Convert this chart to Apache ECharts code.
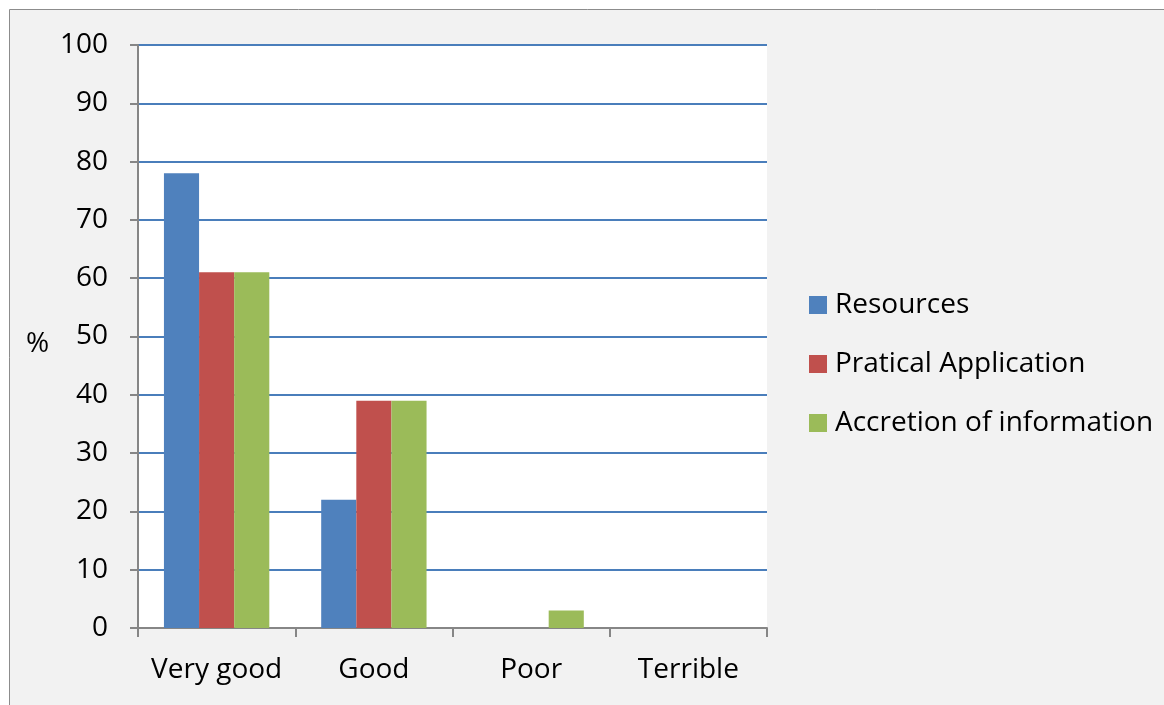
<!DOCTYPE html>
<html><head><meta charset="utf-8">
<script src="https://cdn.jsdelivr.net/npm/echarts@6/dist/echarts.min.js"></script>
<style>html,body{margin:0;padding:0;background:#fff;}#c{width:1164px;height:705px;}</style>
</head><body><div id="c"></div>
<script>
const categories = ["Very good", "Good", "Poor", "Terrible"];
const seriesNames = ["Resources", "Pratical Application", "Accretion of information"];
const resources = [78, 22, 0, 0];
const praticalApplication = [61, 39, 0, 0];
const accretion = [61, 39, 3, 0];
const yAxisTitle = "%";
const colors = ["#4f81bd", "#c0504d", "#9bbb59"];
const FONT = "Open Sans";
const FS = 28;
const chart = echarts.init(document.getElementById('c'), null, {renderer: 'canvas'});
const seriesData = [resources, praticalApplication, accretion];
chart.setOption({
  animation: false,
  backgroundColor: '#ffffff',
  graphic: [{
    type: 'rect', z: -10, silent: true,
    shape: {x: 9.5, y: 9.5, width: 1200, height: 800},
    style: {fill: '#f2f2f2', stroke: '#8c8c8c', lineWidth: 1}
  }, {
    type: 'text', left: 26, top: 330, silent: true,
    style: {text: yAxisTitle, font: FS + 'px "' + FONT + '"', fill: '#000'}
  }],
  grid: {left: 138, top: 45, width: 629, height: 583, backgroundColor: '#ffffff', show: true, borderWidth: 0},
  legend: {
    orient: 'vertical', left: 804, top: 281,
    itemWidth: 18, itemHeight: 18, itemGap: 21,
    icon: 'rect',
    textStyle: {fontFamily: FONT, fontSize: FS, color: '#000', lineHeight: 38, padding: [0, 0, 0, 3]},
    data: seriesNames
  },
  xAxis: {
    type: 'category', data: categories,
    axisLine: {lineStyle: {color: '#868686', width: 2}},
    axisTick: {show: true, length: 9, interval: 0, lineStyle: {color: '#868686', width: 2}},
    axisLabel: {fontFamily: FONT, fontSize: FS, color: '#000', margin: 28, interval: 0},
    splitLine: {show: false}
  },
  yAxis: {
    type: 'value', min: 0, max: 100, interval: 10,
    axisLine: {show: true, lineStyle: {color: '#868686', width: 2}},
    axisTick: {show: true, length: 8, lineStyle: {color: '#868686', width: 2}},
    axisLabel: {fontFamily: FONT, fontSize: FS, color: '#000', margin: 30},
    splitLine: {show: true, lineStyle: {color: '#4a7ebb', width: 2}}
  },
  series: seriesNames.map((n, i) => ({
    name: n, type: 'bar', data: seriesData[i],
    barGap: '0%', barCategoryGap: '33%',
    itemStyle: {color: colors[i]}
  }))
});
</script></body></html>
